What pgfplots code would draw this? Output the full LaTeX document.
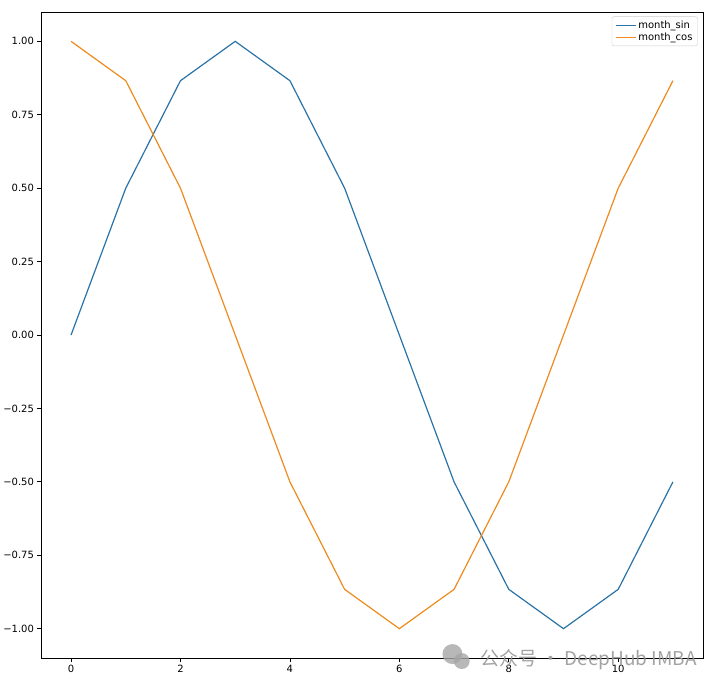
\documentclass[border=0pt]{standalone}
\usepackage{pgfplots}
\pgfplotsset{compat=1.18}
\usepackage{fontspec}
\setmainfont{DejaVu Sans}
\newfontfamily\cjk{Noto Sans CJK SC}
\definecolor{tabblue}{HTML}{2A73A6}
\definecolor{taborange}{HTML}{EE8A1E}

\begin{document}
\begin{tikzpicture}
\begin{axis}[
    scale only axis,
    width=663pt, height=647pt,
    xmin=-0.55, xmax=11.55,
    ymin=-1.1, ymax=1.1,
    xtick={0,2,4,6,8,10},
    ytick={-1,-0.75,-0.5,-0.25,0,0.25,0.5,0.75,1},
    yticklabels={−1.00,−0.75,−0.50,−0.25,0.00,0.25,0.50,0.75,1.00},
    /pgf/number format/assume math mode=true,
    tick label style={font=\fontsize{10}{12}\selectfont},
    tick align=outside,
    tick pos=left,
    major tick length=3.5pt,
    tick style={black, line width=0.8pt},
    axis line style={line width=0.8pt},
    clip=false,
    legend style={
        at={(rel axis cs:0.992,0.993)}, anchor=north east,
        draw=black!20, rounded corners=2pt,
        font=\fontsize{10}{12}\selectfont,
        row sep=-1pt,
    },
    legend cell align=left,
    legend image code/.code={\draw[#1, line width=1.4pt] (0pt,0pt) -- (20pt,0pt);},
]
\addplot[color=tabblue, line width=1.2pt] coordinates {
    (0,0) (1,0.5) (2,0.866) (3,1) (4,0.866) (5,0.5) (6,0)
    (7,-0.5) (8,-0.866) (9,-1) (10,-0.866) (11,-0.5)
};
\addlegendentry{month\_sin}
\addplot[color=taborange, line width=1.2pt] coordinates {
    (0,1) (1,0.866) (2,0.5) (3,0) (4,-0.5) (5,-0.866) (6,-1)
    (7,-0.866) (8,-0.5) (9,0) (10,0.5) (11,0.866)
};
\addlegendentry{month\_cos}

% watermark
\fill[gray!70, opacity=0.8] (rel axis cs:0.6215,0.0062) circle[radius=10pt];
\fill[gray!70, opacity=0.8] (rel axis cs:0.6355,-0.0046) circle[radius=8pt];
\node[anchor=east, text=gray!80, opacity=0.9, inner sep=0pt,
      font=\cjk\fontsize{19}{19}\selectfont]
    at (rel axis cs:0.991,-0.002) {公众号 · DeepHub IMBA};
\end{axis}
\path (current axis.south west) ++(-40pt,-30pt) coordinate (bl);
\path (current axis.north east) ++(17pt,12pt) coordinate (tr);
\path (bl) rectangle (tr);
\end{tikzpicture}
\end{document}
